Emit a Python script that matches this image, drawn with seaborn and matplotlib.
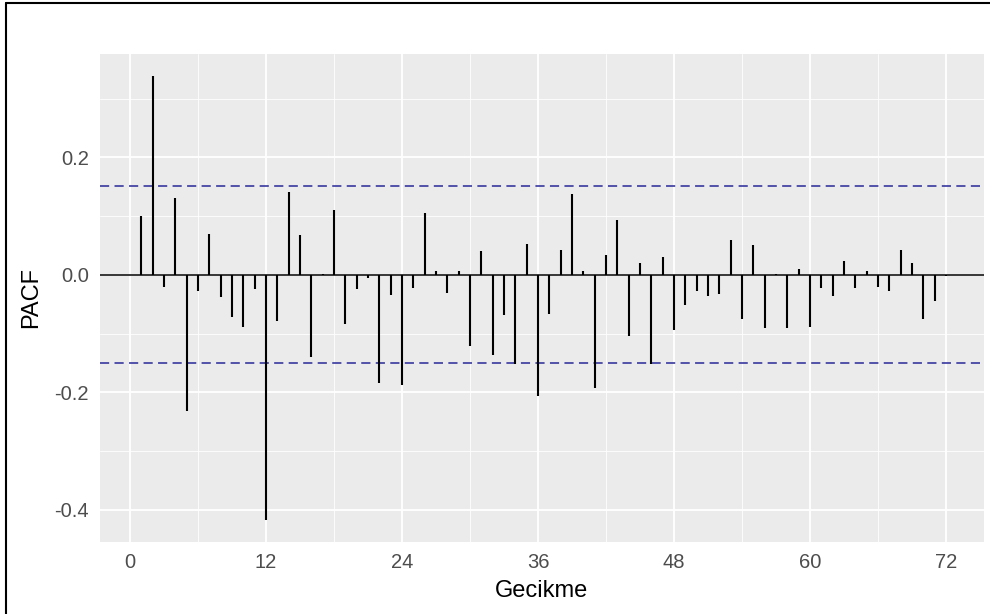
import numpy as np
import pandas as pd
import matplotlib
matplotlib.use("Agg")
import matplotlib.pyplot as plt
from matplotlib.lines import Line2D
from matplotlib.ticker import MultipleLocator
import seaborn as sns

# PACF degerleri (gecikme 1..72)
lags = list(range(1, 73))
pacf_vals = [
    0.100, 0.338, -0.020, 0.130, -0.231, -0.028, 0.070, -0.037, -0.072, -0.089,
    -0.025, -0.417, -0.079, 0.141, 0.067, -0.140, 0.002, 0.111, -0.083, -0.025,
    -0.006, -0.184, -0.034, -0.187, -0.023, 0.105, 0.007, -0.031, 0.007, -0.121,
    0.040, -0.137, -0.069, -0.151, 0.053, -0.206, -0.066, 0.042, 0.137, 0.007,
    -0.193, 0.034, 0.094, -0.104, 0.020, -0.151, 0.031, -0.094, -0.052, -0.028,
    -0.036, -0.033, 0.059, -0.075, 0.050, -0.091, 0.002, -0.091, 0.010, -0.089,
    -0.023, -0.036, 0.023, -0.023, 0.007, -0.021, -0.028, 0.042, 0.020, -0.075,
    -0.045, -0.002,
]
ci = 0.1506
x_ticks = [0, 12, 24, 36, 48, 60, 72]
y_ticks = [-0.4, -0.2, 0.0, 0.2]

df = pd.DataFrame({"Gecikme": lags, "PACF": pacf_vals})

sns.set_theme(style="darkgrid", rc={
    "axes.facecolor": "#EBEBEB",
    "grid.color": "white",
    "axes.edgecolor": "#EBEBEB",
    "xtick.color": "#333333",
    "ytick.color": "#333333",
    "xtick.labelcolor": "#4D4D4D",
    "ytick.labelcolor": "#4D4D4D",
})
plt.rcParams["font.family"] = ["Liberation Sans", "DejaVu Sans"]

fig = plt.figure(figsize=(9.9, 6.14), dpi=100)
ax = fig.add_axes([100 / 990, 1 - 542 / 614, 884 / 990, 488 / 614])

# ggplot tarzi izgara
ax.xaxis.set_major_locator(MultipleLocator(12))
ax.xaxis.set_minor_locator(MultipleLocator(6))
ax.yaxis.set_major_locator(MultipleLocator(0.2))
ax.yaxis.set_minor_locator(MultipleLocator(0.1))
ax.grid(which="major", color="white", linewidth=1.3)
ax.grid(which="minor", color="white", linewidth=0.6)
ax.set_axisbelow(True)

ax.axhline(0, color="black", linewidth=1.1, zorder=2)
ax.vlines(df["Gecikme"], 0, df["PACF"], color="black", linewidth=1.5, zorder=3)
for c in (ci, -ci):
    ax.axhline(c, color="#28289a", linewidth=1.1, linestyle=(0, (6, 3.5)), zorder=2)

ax.set_xlim(-2.65, 75.35)
ymin, ymax = min(pacf_vals), max(pacf_vals)
span_y = ymax - ymin
ax.set_ylim(ymin - 0.05 * span_y, ymax + 0.05 * span_y)

ax.set_xticks(x_ticks)
ax.set_yticks(y_ticks)
ax.set_yticklabels([f"{v:.1f}" for v in y_ticks])
ax.tick_params(which="major", length=5, width=1, labelsize=14.5, pad=3)
ax.tick_params(which="minor", length=0)
for s in ax.spines.values():
    s.set_visible(False)

ax.set_xlabel("Gecikme", fontsize=17, color="black", labelpad=6)
ax.set_ylabel("PACF", fontsize=17, color="black", labelpad=9)

# cerceve (sol ve ust)
fig.add_artist(Line2D([6 / 990, 6 / 990], [0, 1 - 3 / 614], color="black", linewidth=1.5))
fig.add_artist(Line2D([6 / 990, 1], [1 - 3 / 614, 1 - 3 / 614], color="black", linewidth=1.5))

fig.savefig("out.png", dpi=100)
